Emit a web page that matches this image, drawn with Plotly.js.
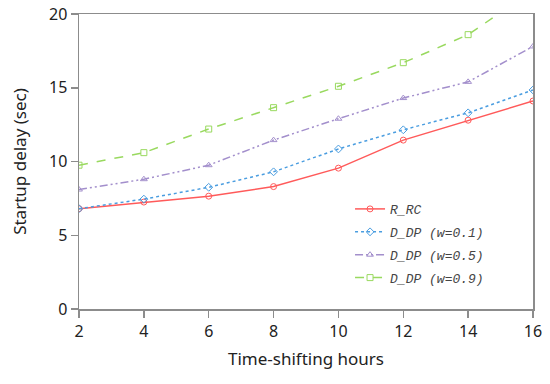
<!DOCTYPE html>
<html><head><meta charset="utf-8">
<script src="https://cdn.plot.ly/plotly-3.0.1.min.js"></script>
<style>html,body{margin:0;padding:0;background:#fff}#c{width:550px;height:384px}</style>
</head><body><div id="c"></div>
<script>
const hours = [2, 4, 6, 8, 10, 12, 14, 16];
const rRC = [6.8, 7.25, 7.65, 8.3, 9.55, 11.45, 12.8, 14.1];
const dDP01 = [6.8, 7.45, 8.25, 9.3, 10.85, 12.15, 13.3, 14.85];
const dDP05 = [8.1, 8.8, 9.75, 11.45, 12.9, 14.3, 15.4, 17.8];
const dDP09 = [9.75, 10.6, 12.2, 13.65, 15.1, 16.7, 18.6, 21.6];
const names = ['R_RC', 'D_DP (w=0.1)', 'D_DP (w=0.5)', 'D_DP (w=0.9)'];
const xTicks = [2, 4, 6, 8, 10, 12, 14, 16];
const yTicks = [0, 5, 10, 15, 20];

const mk = (y, name, color, dash, symbol, g) => ({
  x: hours, y: y, name: name, type: 'scatter', mode: 'lines+markers',
  legendgroup: g,
  line: {color: color, width: 1.5, dash: dash},
  marker: {symbol: symbol, size: 6, color: color, line: {color: color, width: 1}},
  cliponaxis: true
});

const data = [
  mk(rRC, names[0], '#ff5a5a', 'solid', 'circle-open', 'a'),
  mk(dDP01, names[1], '#4a9de0', 'dot', 'diamond-open', 'b'),
  mk(dDP05, names[2], '#a38fcc', '8px,3px,2px,3px,2px,3px', 'triangle-up-open', 'c'),
  mk(dDP09, names[3], '#99d95f', 'dash', 'square-open', 'd')
];

const tickFont = {family: 'Noto Sans, Open Sans, sans-serif', size: 16, color: '#222'};
const titleFont = {family: 'Noto Sans, Open Sans, sans-serif', size: 17, color: '#222'};

const axisCommon = {
  showgrid: false, zeroline: false, showline: true, mirror: true,
  linecolor: '#8c8c8c', linewidth: 1.5,
  ticks: 'outside', ticklen: 7, tickcolor: '#8c8c8c', tickwidth: 1.5,
  tickfont: tickFont
};

const layout = {
  width: 550, height: 384,
  margin: {l: 79, r: 17, t: 14, b: 75},
  paper_bgcolor: '#fff', plot_bgcolor: '#fff',
  showlegend: true,
  legend: {
    x: 0.597, y: 0.39, xanchor: 'left', yanchor: 'top',
    bgcolor: 'rgba(0,0,0,0)', borderwidth: 0,
    font: {family: 'Liberation Mono, DejaVu Sans Mono, monospace', size: 13, color: '#444', style: 'italic'},
    itemwidth: 30, traceorder: 'grouped', tracegroupgap: 3
  },
  xaxis: Object.assign({}, axisCommon, {
    range: [2, 16], tickvals: xTicks, ticktext: xTicks.map(String),
    title: {text: 'Time-shifting hours', font: titleFont, standoff: 12}
  }),
  yaxis: Object.assign({}, axisCommon, {
    range: [0, 20], tickvals: yTicks, ticktext: yTicks.map(String),
    title: {text: 'Startup delay (sec)', font: titleFont, standoff: 18}
  })
};

Plotly.newPlot('c', data, layout, {displayModeBar: false, staticPlot: true});
</script></body></html>
